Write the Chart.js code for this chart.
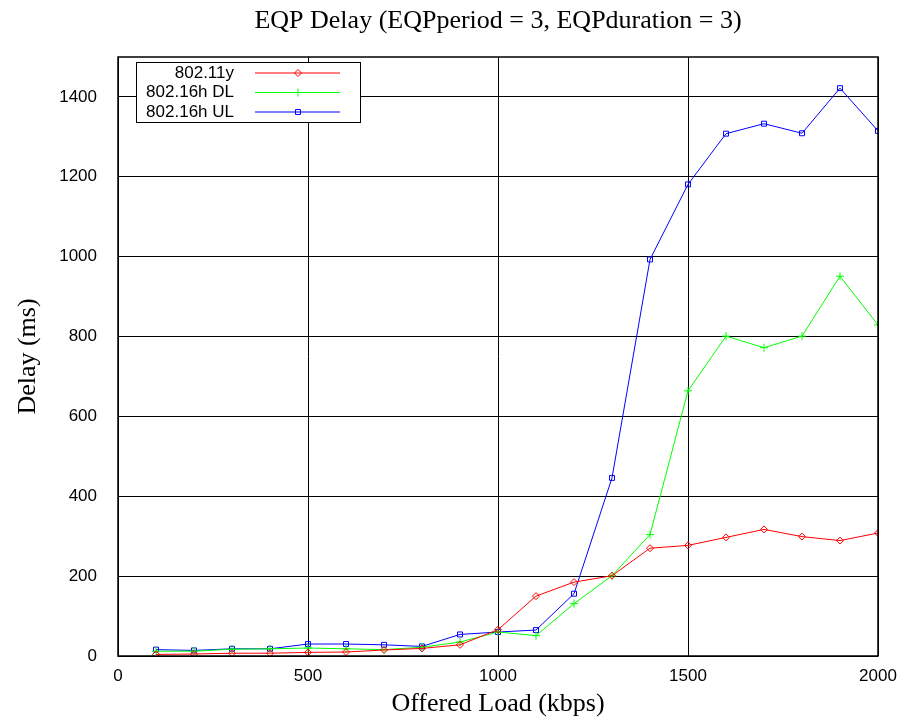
<!DOCTYPE html>
<html>
<head>
<meta charset="utf-8">
<script src="https://cdn.jsdelivr.net/npm/chart.js@4.4.1/dist/chart.umd.min.js"></script>
<style>
  html, body { margin: 0; padding: 0; background: #fff; }
  #wrap { width: 901px; height: 717px; }
</style>
</head>
<body>
<div id="wrap"><canvas id="delayChart" width="901" height="717"></canvas></div>
<script>
// offered load (kbps)
const loads = [100, 200, 300, 400, 500, 600, 700, 800, 900, 1000, 1100, 1200, 1300, 1400, 1500, 1600, 1700, 1800, 1900, 2000];

// delay (ms)
const delay80211y = [4, 5, 7, 7, 9, 10, 15, 19, 28, 66, 150, 185, 201, 270, 277, 297, 317, 299, 289, 308];
const delay80216hDL = [12, 12, 17, 18, 20, 18, 16, 22, 35, 60, 51, 131, 201, 304, 664, 801, 772, 801, 951, 829];
const delay80216hUL = [16, 14, 18, 18, 30, 30, 28, 24, 54, 60, 65, 156, 446, 993, 1181, 1308, 1333, 1309, 1422, 1315];

const seriesNames = ["802.11y", "802.16h DL", "802.16h UL"];
const seriesColors = ["#ff0000", "#00ff00", "#0000ff"];
const seriesMarkers = ["rectRot", "cross", "rect"];
const chartTitle = "EQP Delay (EQPperiod = 3, EQPduration = 3)";

const toPoints = vals => vals.map((v, i) => ({ x: loads[i], y: v }));

const sans = "'Liberation Sans', Arial, sans-serif";
const serif = "'Liberation Serif', 'Times New Roman', serif";

// gnuplot style frame, title over the plot area, legend box
const framePlugin = {
  id: "frame",
  afterDatasetsDraw(chart) {
    const { ctx, chartArea: a } = chart;
    ctx.save();
    ctx.strokeStyle = "#000";
    ctx.lineWidth = 1.5;
    ctx.strokeRect(a.left, a.top, a.right - a.left, a.bottom - a.top);

    ctx.fillStyle = "#000";
    ctx.font = "26px " + serif;
    ctx.textAlign = "center";
    ctx.textBaseline = "middle";
    ctx.fillText(chartTitle, (a.left + a.right) / 2, 21);

    // legend
    const bx = 136, by = 62, bw = 224, bh = 60;
    ctx.fillStyle = "#fff";
    ctx.fillRect(bx, by, bw, bh);
    ctx.lineWidth = 1;
    ctx.strokeRect(bx + 0.5, by + 0.5, bw, bh);
    ctx.font = "17px " + sans;
    ctx.textAlign = "right";
    chart.data.datasets.forEach((ds, i) => {
      const y = by + 11 + i * 19.5;
      ctx.fillStyle = "#000";
      ctx.fillText(ds.label, 234, y);
      ctx.strokeStyle = ds.borderColor;
      ctx.lineWidth = 1;
      ctx.beginPath();
      ctx.moveTo(255, y);
      ctx.lineTo(340, y);
      ctx.stroke();
      ctx.fillStyle = "rgba(0,0,0,0)";
      Chart.helpers.drawPoint(ctx, {
        pointStyle: ds.pointStyle,
        radius: ds.pointRadius,
        borderWidth: 1
      }, 298, y);
    });
    ctx.restore();
  }
};

const datasets = [delay80211y, delay80216hDL, delay80216hUL].map((vals, i) => ({
  label: seriesNames[i],
  data: toPoints(vals),
  borderColor: seriesColors[i],
  backgroundColor: "transparent",
  borderWidth: 1,
  pointStyle: seriesMarkers[i],
  pointRadius: i === 1 ? 4 : 3.5,
  pointBorderWidth: 1,
  pointBorderColor: seriesColors[i],
  pointBackgroundColor: "transparent",
  tension: 0
}));

new Chart(document.getElementById("delayChart"), {
  type: "line",
  data: { datasets },
  options: {
    responsive: false,
    animation: false,
    layout: { padding: { left: 0, right: 23, top: 57, bottom: 0 } },
    plugins: {
      legend: { display: false },
      tooltip: { enabled: false },
      title: { display: false }
    },
    scales: {
      x: {
        type: "linear",
        min: 0,
        max: 2000,
        ticks: {
          stepSize: 500, color: "#000", font: { family: sans, size: 17 }, padding: 10, maxRotation: 0,
          callback: v => String(v)
        },
        grid: { color: "#000", lineWidth: 1, drawTicks: false },
        border: { display: false },
        title: {
          display: true,
          text: "Offered Load (kbps)",
          color: "#000",
          font: { family: serif, size: 26 },
          padding: { top: 0, bottom: -3 }
        },
        afterFit: s => { s.height = 61; s.paddingRight = 0; s.paddingLeft = 0; }
      },
      y: {
        min: 0,
        max: 1500,
        ticks: {
          stepSize: 200, color: "#000", font: { family: sans, size: 17 }, padding: 21,
          callback: v => String(v)
        },
        afterBuildTicks: s => { s.ticks = s.ticks.filter(t => t.value % 200 === 0); },
        grid: { color: "#000", lineWidth: 1, drawTicks: false },
        border: { display: false },
        title: {
          display: true,
          text: "Delay (ms)",
          color: "#000",
          font: { family: serif, size: 26 },
          padding: { top: 13, bottom: 0 }
        },
        afterFit: s => { s.width = 118; s.paddingTop = 0; s.paddingBottom = 0; }
      }
    }
  },
  plugins: [framePlugin]
});
</script>
</body>
</html>
